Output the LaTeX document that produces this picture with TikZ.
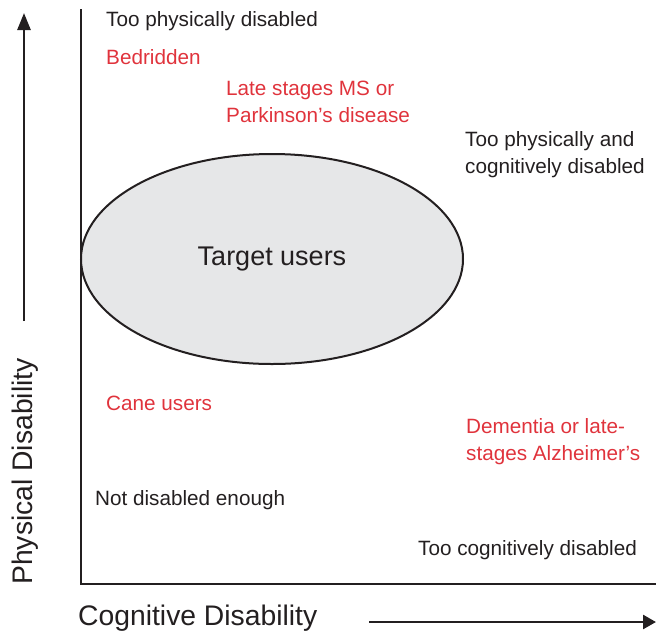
\documentclass[tikz,border=0pt]{standalone}
\usepackage{fontspec}
\setmainfont{Liberation Sans}
\usetikzlibrary{arrows.meta,shapes.geometric}
\definecolor{labred}{HTML}{E0333C}
\definecolor{labgray}{HTML}{231F20}
\definecolor{ellfill}{HTML}{E6E7E8}
\begin{document}
\begin{tikzpicture}[x=1pt,y=-1pt,
  lab/.style={anchor=base west, inner sep=0pt, font=\fontsize{20.7}{27}\selectfont, text=labgray, align=left},
  redlab/.style={lab, text=labred},
  axislab/.style={inner sep=0pt, font=\fontsize{28.3}{34}\selectfont, text=labgray},
  axisline/.style={line width=2.6pt, draw=labgray, line join=miter},
  arrowline/.style={line width=2.6pt, draw=labgray, -{Triangle[length=17pt,width=13pt]}},
  arrowlineh/.style={line width=2.6pt, draw=labgray, -{Triangle[length=13pt,width=14pt]}},
  target/.style={ellipse, draw=labgray, line width=2pt, fill=ellfill, minimum width=382pt, minimum height=210pt, inner sep=0pt, font=\fontsize{27}{32}\selectfont, text=labgray}]
\useasboundingbox (0,0) rectangle (656,641);
% axes
\coordinate (ytop) at (81,9);
\coordinate (origin) at (81,584);
\coordinate (xend) at (656,584);
\draw[axisline] (ytop) -- (origin) -- (xend);
% direction arrows
\coordinate (yarrS) at (24,321);
\coordinate (yarrE) at (24,13);
\draw[arrowline] (yarrS) -- (yarrE);
\coordinate (xarrS) at (369,622);
\coordinate (xarrE) at (656,622);
\draw[arrowlineh] (xarrS) -- (xarrE);
% axis labels
\node[axislab, anchor=base west] (xlab) at (78,625) {Cognitive Disability};
\node[axislab, rotate=90, anchor=base] (ylab) at (32,471.5) {Physical Disability};
% ellipse
\node[target] (tu) at (272,259) {Target users};
% labels (multi-line nodes are anchored at the baseline of their last line)
\node[lab] (tpd) at (106,26) {Too physically disabled};
\node[redlab] (bed) at (106,64) {Bedridden};
\node[redlab] (late) at (226,122) {Late stages MS or\\Parkinson’s disease};
\node[lab] (tpc) at (465,173) {Too physically and\\cognitively disabled};
\node[redlab] (cane) at (106,410) {Cane users};
\node[lab] (nde) at (95,505) {Not disabled enough};
\node[redlab] (dem) at (466,460) {Dementia or late-\\stages Alzheimer’s};
\node[lab] (tcd) at (418,555) {Too cognitively disabled};
\end{tikzpicture}
\end{document}
